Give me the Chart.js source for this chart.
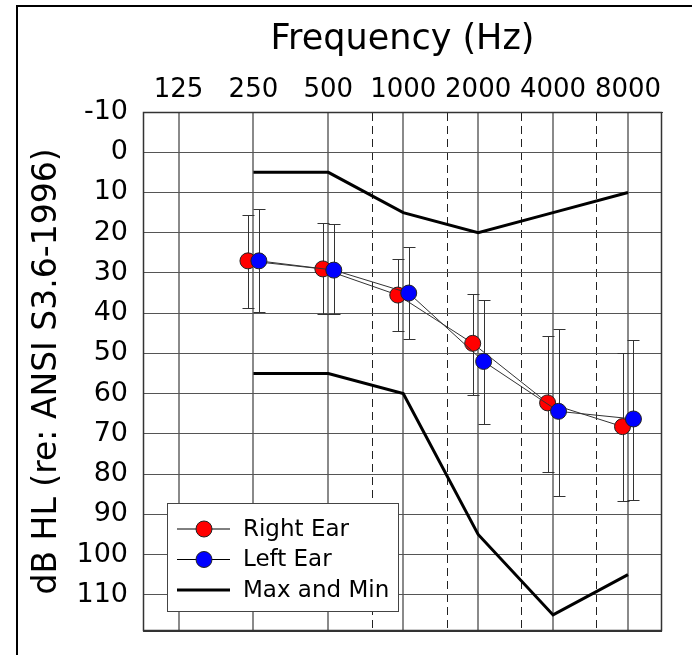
<!DOCTYPE html>
<html>
<head>
<meta charset="utf-8">
<title>Audiogram</title>
<script src="https://cdn.jsdelivr.net/npm/chart.js@4.4.0/dist/chart.umd.min.js"></script>
<style>
  body { margin: 0; background: #fff; }
  canvas { display: block; }
</style>
</head>
<body>
<canvas id="audiogram" width="692" height="655"></canvas>
<script>
// data
const frequencies = [250, 500, 1000, 2000, 4000, 8000];
const freqTicks = [125, 250, 500, 1000, 2000, 4000, 8000];
const halfOctaveTicks = [750, 1500, 3000, 6000];
const dbTicks = [-10, 0, 10, 20, 30, 40, 50, 60, 70, 80, 90, 100, 110];
const dbMin = -10, dbMax = 119;

const rightEar = [27, 29, 35.5, 47.5, 62.3, 68.2];
const rightEarLow = [15.6, 17.5, 26.6, 35.2, 45.7, 49.8];
const rightEarHigh = [38.6, 40.2, 44.5, 60.3, 79.4, 86.8];

const leftEar = [27, 29.3, 35, 52, 64.4, 66.3];
const leftEarLow = [14.2, 17.9, 23.6, 36.7, 43.9, 46.6];
const leftEarHigh = [39.6, 40.2, 46.3, 67.6, 85.5, 86.5];

const minLevel = [5, 5, 15, 20, 15, 10];
const maxLevel = [55, 55, 60, 95, 115, 105];

// right ear drawn a bit left of the frequency, left ear a bit right (octaves)
const earShift = 0.073;

const FONT = '"DejaVu Sans", Verdana, sans-serif';

function points(values, shift) {
  return frequencies.map((f, i) => ({ x: f * Math.pow(2, shift), y: values[i] }));
}

const isHalf = ctx => ctx.tick && halfOctaveTicks.includes(ctx.tick.value);

// outer frame + plot border
const framePlugin = {
  id: 'frame',
  beforeDraw(chart) {
    const ctx = chart.ctx;
    ctx.save();
    ctx.fillStyle = '#fff';
    ctx.fillRect(0, 0, chart.width, chart.height);
    ctx.strokeStyle = '#000';
    ctx.lineWidth = 2;
    ctx.beginPath();
    ctx.moveTo(17, chart.height + 5);
    ctx.lineTo(17, 6);
    ctx.lineTo(chart.width + 5, 6);
    ctx.stroke();
    ctx.restore();
  },
  afterDatasetsDraw(chart) {
    const y = chart.scales.y;
    const l = Math.round(chart.chartArea.left) + 0.5;
    const t = Math.round(y.getPixelForValue(dbMin)) + 0.5;
    const r = Math.round(chart.chartArea.right) - 0.5;
    const b = Math.round(y.getPixelForValue(dbMax)) - 0.5;
    const ctx = chart.ctx;
    ctx.save();
    ctx.strokeStyle = '#333';
    ctx.lineWidth = 1.5;
    ctx.beginPath();
    ctx.moveTo(l, t); ctx.lineTo(r, t); ctx.lineTo(r, b); ctx.lineTo(l, b); ctx.closePath();
    ctx.stroke();
    ctx.restore();
  }
};

// vertical error bars behind the markers
const errorBarPlugin = {
  id: 'errorBars',
  beforeDatasetsDraw(chart) {
    const ctx = chart.ctx;
    const y = chart.scales.y;
    ctx.save();
    ctx.strokeStyle = '#333';
    ctx.lineWidth = 1;
    chart.data.datasets.forEach((ds, i) => {
      if (!ds.errLow) return;
      const meta = chart.getDatasetMeta(i);
      meta.data.forEach((pt, j) => {
        const x = Math.round(pt.x) + 0.5;
        const y1 = Math.round(y.getPixelForValue(ds.errLow[j])) + 0.5;
        const y2 = Math.round(y.getPixelForValue(ds.errHigh[j])) + 0.5;
        ctx.beginPath();
        ctx.moveTo(x, y1); ctx.lineTo(x, y2);
        ctx.moveTo(x - 6, y1); ctx.lineTo(x + 6, y1);
        ctx.moveTo(x - 6, y2); ctx.lineTo(x + 6, y2);
        ctx.stroke();
      });
    });
    ctx.restore();
  }
};

// boxed legend in the lower left of the plot
const legendPlugin = {
  id: 'boxLegend',
  afterDraw(chart) {
    const ctx = chart.ctx;
    const ca = chart.chartArea;
    const bx = Math.round(ca.left) + 24, by = Math.round(ca.bottom) - 128, bw = 231, bh = 108;
    ctx.save();
    ctx.fillStyle = '#fff';
    ctx.fillRect(bx, by, bw, bh);
    ctx.strokeStyle = '#444';
    ctx.lineWidth = 1;
    ctx.strokeRect(bx + 0.5, by + 0.5, bw, bh);
    const items = [
      { text: 'Right Ear', color: 'red', marker: true },
      { text: 'Left Ear', color: 'blue', marker: true },
      { text: 'Max and Min', marker: false }
    ];
    items.forEach((it, k) => {
      const cy = by + 26 + k * 30.5;
      ctx.beginPath();
      ctx.strokeStyle = '#000';
      ctx.lineWidth = it.marker ? 1 : 3;
      ctx.moveTo(bx + 10, cy);
      ctx.lineTo(bx + 63, cy);
      ctx.stroke();
      if (it.marker) {
        ctx.beginPath();
        ctx.arc(bx + 37, cy, 8, 0, Math.PI * 2);
        ctx.fillStyle = it.color;
        ctx.fill();
        ctx.lineWidth = 1;
        ctx.strokeStyle = '#222';
        ctx.stroke();
      }
      ctx.fillStyle = '#000';
      ctx.font = '23px ' + FONT;
      ctx.textBaseline = 'middle';
      ctx.fillText(it.text, bx + 76, cy + 1);
    });
    ctx.restore();
  }
};

new Chart(document.getElementById('audiogram'), {
  type: 'line',
  data: {
    datasets: [
      {
        label: 'Left Ear',
        data: points(leftEar, earShift),
        errLow: leftEarLow,
        errHigh: leftEarHigh,
        borderColor: '#333',
        borderWidth: 1,
        pointRadius: 8,
        pointBackgroundColor: 'blue',
        pointBorderColor: '#222',
        pointBorderWidth: 1,
        order: 0
      },
      {
        label: 'Right Ear',
        data: points(rightEar, -earShift),
        errLow: rightEarLow,
        errHigh: rightEarHigh,
        borderColor: '#333',
        borderWidth: 1,
        pointRadius: 8,
        pointBackgroundColor: 'red',
        pointBorderColor: '#222',
        pointBorderWidth: 1,
        order: 1
      },
      {
        label: 'Max and Min',
        data: points(minLevel, 0),
        borderColor: '#000',
        borderWidth: 3,
        pointRadius: 0,
        order: 2
      },
      {
        label: 'Max',
        data: points(maxLevel, 0),
        borderColor: '#000',
        borderWidth: 3,
        pointRadius: 0,
        order: 2
      }
    ]
  },
  options: {
    responsive: false,
    animation: false,
    layout: { padding: { left: 0, top: 0, right: 30, bottom: 24 } },
    plugins: {
      legend: { display: false },
      tooltip: { enabled: false }
    },
    scales: {
      x: {
        type: 'logarithmic',
        position: 'top',
        min: 90,
        max: 10960,
        afterBuildTicks: s => {
          s.ticks = [...freqTicks, ...halfOctaveTicks].sort((a, b) => a - b).map(v => ({ value: v }));
        },
        afterFit: s => {
          s.height = 112;
          s.paddingLeft = 0;
          s.paddingRight = 0;
        },
        ticks: {
          autoSkip: false,
          maxRotation: 0,
          padding: 6,
          color: '#000',
          font: { family: FONT, size: 26 },
          callback: v => freqTicks.includes(v) ? String(v) : ''
        },
        grid: {
          drawTicks: false,
          color: ctx => isHalf(ctx) ? '#222' : '#8a8a8a',
          lineWidth: ctx => isHalf(ctx) ? 1 : 2
        },
        border: {
          color: '#444',
          dash: ctx => isHalf(ctx) ? [8, 5] : []
        },
        title: {
          display: true,
          text: 'Frequency (Hz)',
          color: '#000',
          font: { family: FONT, size: 35 },
          padding: { top: 19, bottom: 0 }
        }
      },
      y: {
        reverse: true,
        min: dbMin,
        max: dbMax,
        afterBuildTicks: s => { s.ticks = [...dbTicks, dbMax].map(v => ({ value: v })); },
        afterFit: s => {
          s.width = 143;
          s.paddingTop = 0;
          s.paddingBottom = 0;
        },
        ticks: {
          autoSkip: false,
          padding: 15,
          color: '#000',
          font: { family: FONT, size: 27 },
          callback: v => dbTicks.includes(v) ? String(v) : ''
        },
        grid: {
          drawTicks: false,
          color: ctx => ctx.tick && ctx.tick.value === dbMax ? '#333' : '#555',
          lineWidth: 1
        },
        border: { color: '#444' },
        title: {
          display: true,
          text: 'dB HL (re: ANSI S3.6-1996)',
          color: '#000',
          font: { family: FONT, size: 33 },
          padding: { top: 28, bottom: 0 }
        }
      }
    }
  },
  plugins: [framePlugin, errorBarPlugin, legendPlugin]
});
</script>
</body>
</html>
